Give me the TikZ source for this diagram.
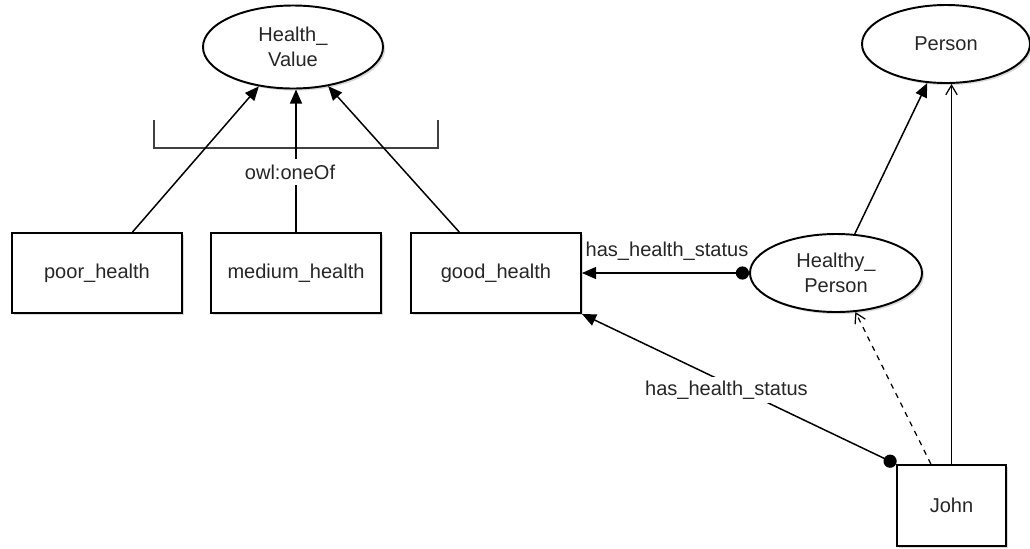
\documentclass[tikz,border=0pt]{standalone}
\usepackage{fontspec}
\setmainfont{Liberation Sans}
\usetikzlibrary{shapes.geometric, arrows.meta, shadows}

\begin{document}
\begin{tikzpicture}[
		font=\fontsize{11.4}{14.5}\selectfont,
		cls/.style={ellipse, draw, line width=1.1pt, fill=white, align=center, text=black!85,
			drop shadow={opacity=0.3, shadow xshift=1.2pt, shadow yshift=-1.2pt}},
		inst/.style={rectangle, draw, line width=1.1pt, fill=white, text=black!85,
			minimum width=3.4cm, minimum height=1.6cm,
			drop shadow={opacity=0.3, shadow xshift=1.2pt, shadow yshift=-1.2pt}},
		isa/.style={-{Triangle[length=8pt,width=6.8pt]}, line width=0.85pt},
		prop/.style={{Circle[length=7.5pt]}-{Triangle[length=8pt,width=6.8pt]}, line width=0.85pt},
		typ/.style={-{Straight Barb[length=5.5pt,width=6.5pt]}, line width=0.7pt},
		lbl/.style={fill=white, inner sep=2pt, text=black!85}
	]
	\useasboundingbox (0,0) rectangle (20.6,-10.96);

	% Classes
	\node[cls, minimum width=3.6cm, minimum height=1.66cm] (hv) at (5.86,-0.94) {Health\_\\Value};
	\node[cls, minimum width=3.36cm, minimum height=1.56cm] (person) at (18.92,-0.88) {Person};
	\node[cls, minimum width=3.44cm, minimum height=1.56cm] (healthy) at (16.72,-5.46) {Healthy\_\\Person};

	% Individuals
	\node[inst] (poor) at (1.94,-5.46) {poor\_health};
	\node[inst] (medium) at (5.92,-5.46) {medium\_health};
	\node[inst] (good) at (9.92,-5.46) {good\_health};
	\node[inst, minimum width=2.18cm, minimum height=1.62cm] (john) at (19.03,-10.11) {John};

	% owl:oneOf bracket
	\draw[line width=0.7pt, black!75] (3.08,-2.4) -- (3.08,-2.96) -- (8.76,-2.96) -- (8.76,-2.4);
	\node[lbl, inner sep=3pt] (oneof) at (5.8,-3.44) {owl:oneOf};

	\draw[isa] (poor) -- (hv);
	\draw[isa] (good) -- (hv);
	\draw[line width=0.85pt] (medium.north) -- (medium.north |- oneof.south);
	\draw[isa] (medium.north |- oneof.north) -- (medium.north |- hv.south);

	\draw[isa] (healthy) -- (person);
	\draw[typ] (john.north) -- (john.north |- person.south);
	\draw[typ, dashed] (john) -- (healthy);

	% has_health_status
	\draw[prop] (healthy) -- (good);
	\node[text=black!85] (hs1) at (13.34,-5.02) {has\_health\_status};
	\draw[prop] (john.north west) -- node[lbl, pos=0.54, yshift=-4pt] (hs2) {has\_health\_status} (good.south east);
\end{tikzpicture}
\end{document}
